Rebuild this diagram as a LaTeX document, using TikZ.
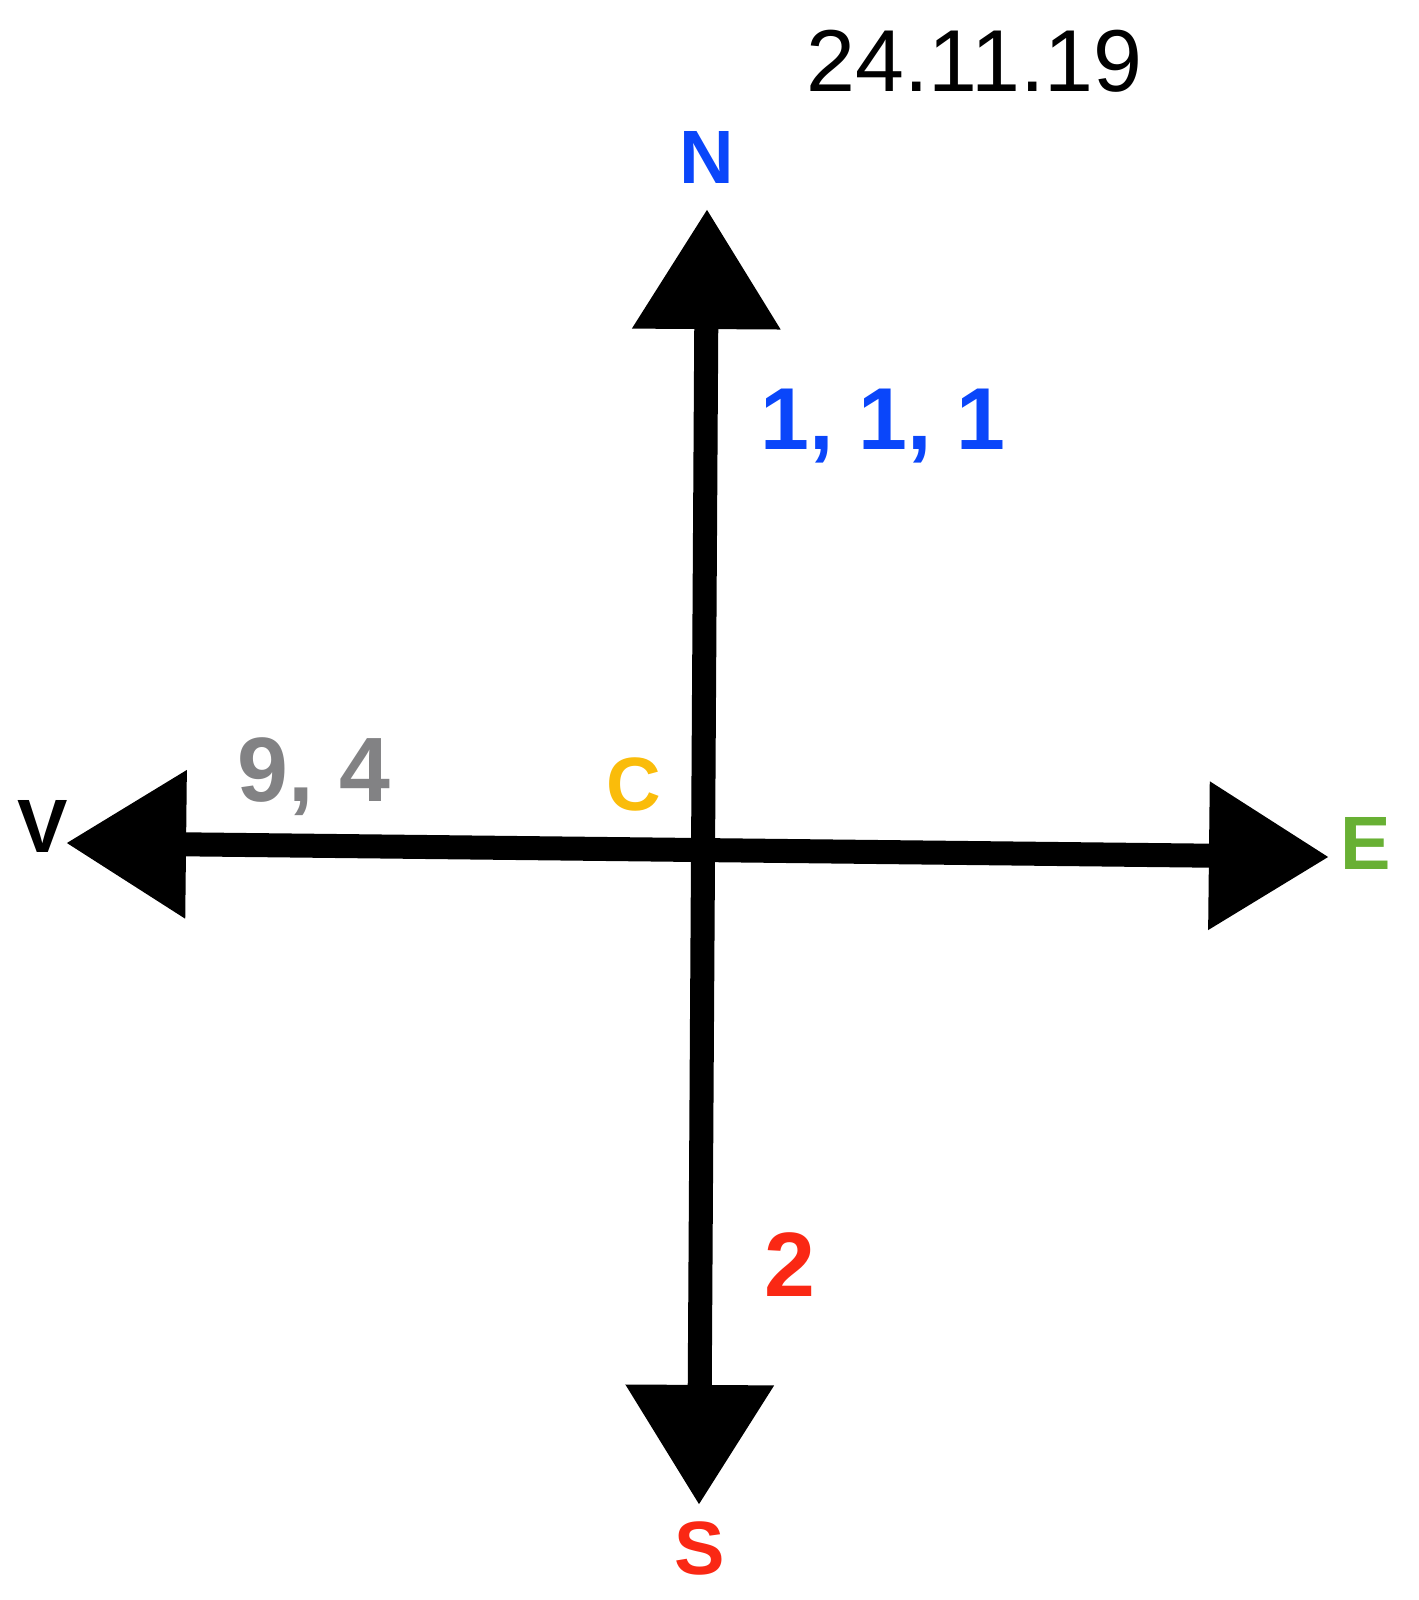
\documentclass[tikz,border=0pt]{standalone}
\usepackage{fontspec}
\setmainfont{Liberation Sans}
\usepackage{tikz}
\usetikzlibrary{arrows.meta, positioning}
\definecolor{northblue}{RGB}{10,70,250}
\definecolor{eastgreen}{RGB}{104,176,52}
\definecolor{southred}{RGB}{250,40,20}
\definecolor{centreamber}{RGB}{250,188,10}
\definecolor{westgrey}{RGB}{130,130,132}

\begin{document}
\begin{tikzpicture}[
  x=0.01cm, y=-0.01cm,
  lbl/.style={inner sep=0pt, font=\fontsize{21.5}{24}\selectfont\bfseries},
  numlbl/.style={inner sep=0pt, font=\fontsize{26}{30}\selectfont\bfseries},
  axis/.style={line width=0.24cm, draw=black,
    {Triangle[length=1.2cm, width=1.42cm]}-{Triangle[length=1.2cm, width=1.42cm]}}
]
\useasboundingbox (0,0) rectangle (1418,1600);

% Tips of the cross
\coordinate (ntip) at (707,209);
\coordinate (stip) at (699,1505);
\coordinate (vtip) at (66,843);
\coordinate (etip) at (1329,857);

% Date
\node[inner sep=0pt, anchor=base west, font=\fontsize{25}{30}\selectfont] (date) at (806,92) {24.11.19};

% Compass letters
\node[lbl, anchor=base, text=northblue] (north) at (707,184) {N};
\node[lbl, anchor=base, text=southred] (south) at (700,1574) {S};
\node[lbl, anchor=base, text=black] (west) at (43,852) {V};
\node[lbl, anchor=base, text=eastgreen] (east) at (1366,869) {E};
\node[lbl, anchor=base, text=centreamber] (centre) at (634,810) {C};

% Values
\node[numlbl, anchor=base west, text=northblue, font=\fontsize{25}{30}\selectfont\bfseries] (nval) at (760,449) {1, 1, 1};
\node[numlbl, anchor=base west, text=westgrey] (vval) at (237,801) {9, 4};
\node[numlbl, anchor=base, text=southred] (sval) at (790,1296) {2};

\draw[axis] (stip) -- (ntip);
\draw[axis] (vtip) -- (etip);

\end{tikzpicture}
\end{document}
